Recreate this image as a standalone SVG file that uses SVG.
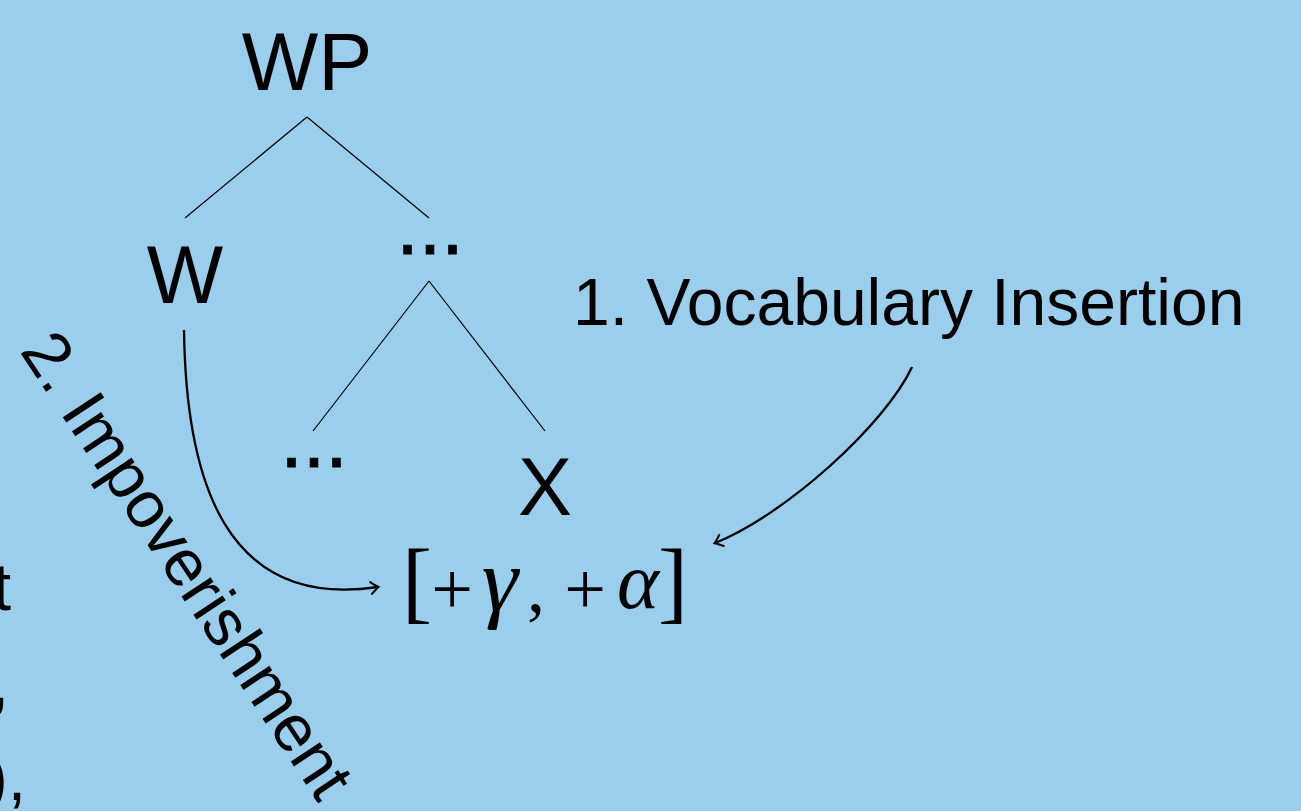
<svg xmlns="http://www.w3.org/2000/svg" width="1301" height="811" viewBox="0 0 1301 811">
<defs>
<style>
.sans{font-family:"Liberation Sans",Arial,sans-serif;fill:#000}
.big{font-size:81px}
.lab{font-size:66px}
.dots{stroke:#000;stroke-width:0.8}
.serif{font-family:"Liberation Serif","Times New Roman",serif;fill:#000}
.it{font-style:italic}
.tree{stroke:#000;stroke-width:1.2;fill:none}
.arr{stroke:#000;stroke-width:2.3;fill:none;marker-end:url(#head)}
</style>
<marker id="head" viewBox="-10 -8 14 16" markerWidth="14" markerHeight="16" refX="0" refY="0" orient="auto" markerUnits="userSpaceOnUse">
<path d="M-7,-6 Q-2,-1.5 0.5,0 Q-2,1.5 -7,6" fill="none" stroke="#000" stroke-width="2" stroke-linecap="round"/>
</marker>
</defs>
<rect width="1301" height="811" fill="#9BCEEC"/>
<g id="connectors">
<line class="tree" x1="307" y1="117" x2="185" y2="218"/>
<line class="tree" x1="307" y1="117" x2="429" y2="218"/>
<line class="tree" x1="429" y1="281" x2="313" y2="431"/>
<line class="tree" x1="429" y1="281" x2="545" y2="431"/>
<path class="arr" d="M912,367 C885,425 785,515 715,543"/>
<path class="arr" d="M184,330 C186,480 225,610 378,587"/>
</g>
<g id="node-WP"><text class="sans big" x="307" y="90" text-anchor="middle">WP</text></g>
<g id="node-W"><text class="sans big" x="185" y="303" text-anchor="middle">W</text></g>
<g id="node-dots1"><text class="sans big dots" x="430" y="254" text-anchor="middle">...</text></g>
<g id="node-dots2"><text class="sans big dots" x="314" y="467" text-anchor="middle">...</text></g>
<g id="node-X"><text class="sans big" x="545" y="515" text-anchor="middle">X</text></g>
<g id="node-features">
<text class="serif" font-size="90" x="417" y="612" text-anchor="middle">[</text>
<text class="serif" font-size="74" x="452" y="614" text-anchor="middle">+</text>
<text class="serif it" font-size="92" x="500" y="611" text-anchor="middle">γ</text>
<text class="serif" font-size="72" x="536" y="611" text-anchor="middle">,</text>
<text class="serif" font-size="74" x="585" y="614" text-anchor="middle">+</text>
<text class="serif it" font-size="80" x="638" y="608" text-anchor="middle">α</text>
<text class="serif" font-size="90" x="673" y="612" text-anchor="middle">]</text>
</g>
<g id="label-vocab"><text class="sans lab" x="573" y="325">1. Vocabulary Insertion</text></g>
<g id="label-impov"><text class="sans lab" transform="translate(19,351) rotate(56.5)" x="0" y="0">2. Impoverishment</text></g>
<g id="edge-fragments">
<text class="sans lab" x="11" y="610" text-anchor="end">t</text>
<text class="sans lab" x="9" y="705" text-anchor="end">,</text>
<text class="sans lab" x="26" y="800" text-anchor="end">),</text>
</g>
</svg>
